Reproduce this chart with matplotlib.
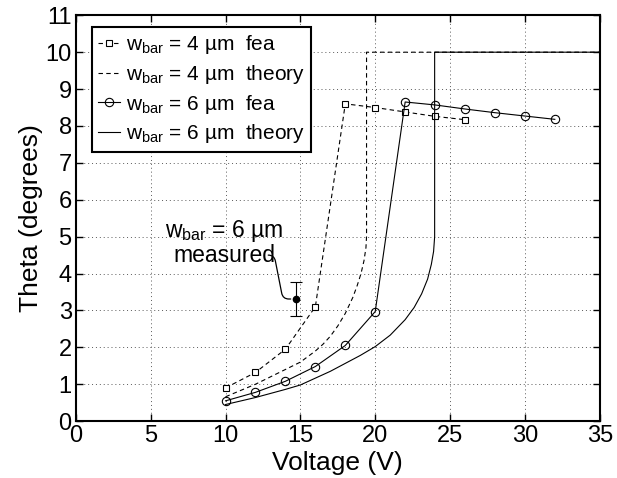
import matplotlib
matplotlib.use("Agg")
import matplotlib.pyplot as plt

plt.rcParams['font.family'] = ['Liberation Sans', 'DejaVu Sans']
plt.rcParams['mathtext.fontset'] = 'custom'
plt.rcParams['mathtext.rm'] = 'Liberation Sans'
plt.rcParams['mathtext.it'] = 'Liberation Sans:italic'

# fea results, w_bar = 4 um
v_fea4 = [10, 12, 14, 16, 18, 20, 22, 24, 26]
th_fea4 = [0.9, 1.32, 1.95, 3.1, 8.6, 8.5, 8.38, 8.26, 8.17]

# theory, w_bar = 4 um
v_th4 = [10, 11, 12, 13, 14, 15, 16, 16.5, 17, 17.5, 18, 18.5, 18.8, 19.05, 19.25, 19.38, 19.42, 19.42, 35]
th_th4 = [0.66, 0.83, 1.0, 1.2, 1.4, 1.6, 1.9, 2.08, 2.3, 2.58, 2.92, 3.35, 3.68, 4.0, 4.35, 4.7, 5.0, 10, 10]

# fea results, w_bar = 6 um
v_fea6 = [10, 12, 14, 16, 18, 20, 22, 24, 26, 28, 30, 32]
th_fea6 = [0.55, 0.78, 1.08, 1.48, 2.05, 2.97, 8.65, 8.57, 8.46, 8.36, 8.27, 8.18]

# theory, w_bar = 6 um
v_th6 = [10, 12, 14, 15, 17, 19, 20, 21, 22, 22.6, 23.1, 23.5, 23.75, 23.9, 23.97, 23.97, 35]
th_th6 = [0.45, 0.64, 0.86, 0.98, 1.35, 1.78, 2.02, 2.33, 2.75, 3.08, 3.45, 3.85, 4.25, 4.6, 5.0, 10, 10]

# measured point
v_meas = 14.73
th_meas = 3.31
th_err = 0.45

fig = plt.figure(figsize=(6.17, 4.78), dpi=100)
ax = fig.add_axes([0.123, 0.119, 0.849, 0.849])

ax.plot(v_fea4, th_fea4, color='k', linestyle='--', dashes=(4, 3), linewidth=0.8,
        marker='s', markersize=5, markerfacecolor='white', markeredgewidth=0.8,
        label=r"w$_{\mathrm{bar}}$ = 4 µm  fea")
ax.plot(v_th4, th_th4, color='k', linestyle='--', dashes=(4, 3), linewidth=0.8,
        label=r"w$_{\mathrm{bar}}$ = 4 µm  theory")
ax.plot(v_fea6, th_fea6, color='k', linestyle='-', linewidth=0.8,
        marker='o', markersize=6, markerfacecolor='none', markeredgewidth=0.8,
        label=r"w$_{\mathrm{bar}}$ = 6 µm  fea")
ax.plot(v_th6, th_th6, color='k', linestyle='-', linewidth=0.8,
        label=r"w$_{\mathrm{bar}}$ = 6 µm  theory")

ax.errorbar([v_meas], [th_meas], yerr=[th_err], fmt='o', color='k', markersize=4.5,
            elinewidth=0.8, capsize=4, capthick=0.8)

ax.text(9.9, 4.85, "w$_{\\mathrm{bar}}$ = 6 µm\nmeasured", ha='center', va='center',
        multialignment='center', fontsize=16.5, linespacing=1.0)
ax.annotate('', xy=(v_meas - 0.1, th_meas), xytext=(12.85, 4.5),
            arrowprops=dict(arrowstyle='-', color='k', linewidth=0.9,
                            connectionstyle='arc,angleA=0,angleB=180,armA=6,armB=12,rad=6',
                            shrinkA=0, shrinkB=3))

ax.set_xlim(0, 35)
ax.set_ylim(0, 11)
ax.set_xticks(range(0, 36, 5))
ax.set_yticks(range(0, 12))
ax.tick_params(direction='in', top=True, right=True, length=5, width=1, labelsize=17, pad=3)
ax.grid(True, linestyle=(0, (1, 3)), color='0.35', linewidth=0.7)
for s in ax.spines.values():
    s.set_linewidth(1.5)

ax.set_xlabel("Voltage (V)", fontsize=19, labelpad=3)
ax.set_ylabel("Theta (degrees)", fontsize=19, labelpad=2)

leg = ax.legend(loc='upper left', bbox_to_anchor=(0.03, 0.971), borderaxespad=0,
                fontsize=15, handlelength=1.05, handletextpad=0.3, labelspacing=0.32,
                fancybox=False, framealpha=1, edgecolor='k', borderpad=0.3)
leg.get_frame().set_linewidth(1.5)

fig.savefig("out.png", dpi=100)
